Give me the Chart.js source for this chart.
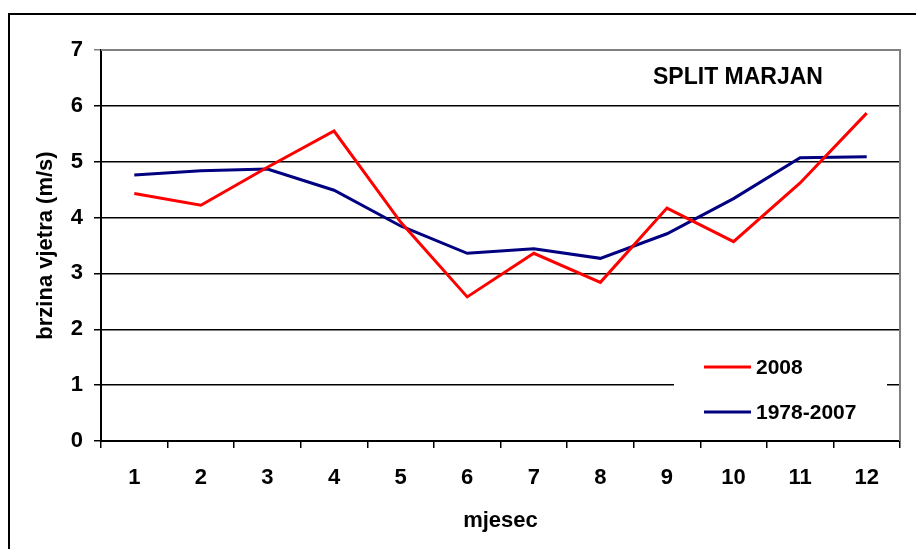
<!DOCTYPE html>
<html>
<head>
<meta charset="utf-8">
<script src="https://cdn.jsdelivr.net/npm/chart.js@4"></script>
<style>
  html, body { margin: 0; padding: 0; background: #fff; overflow: hidden; }
  #wrap { width: 916px; height: 549px; }
</style>
</head>
<body>
<div id="wrap"><canvas id="windChart" width="916" height="549"></canvas></div>
<script>
// podaci
const months = ['1', '2', '3', '4', '5', '6', '7', '8', '9', '10', '11', '12'];
const speed2008 = [4.43, 4.22, 4.9, 5.55, 3.92, 2.58, 3.36, 2.84, 4.17, 3.57, 4.62, 5.87];
const speed7807 = [4.76, 4.84, 4.87, 4.49, 3.85, 3.36, 3.44, 3.27, 3.71, 4.34, 5.07, 5.09];
const seriesNames = ['2008', '1978-2007'];
const stationName = 'SPLIT MARJAN';

const FONT = "'Liberation Sans', Arial, sans-serif";

// okvir, naslov i legenda unutar grafa
const extras = {
    id: 'extras',
    beforeDraw(chart) {
        const ctx = chart.ctx;
        ctx.save();
        ctx.fillStyle = '#fff';
        ctx.fillRect(0, 0, chart.width, chart.height);
        ctx.strokeStyle = '#000';
        ctx.lineWidth = 2;
        ctx.strokeRect(9, 14, chart.width + 50, chart.height + 50);
        ctx.restore();
    },
    afterDraw(chart) {
        const ctx = chart.ctx;
        const a = chart.chartArea;
        ctx.save();
        // rub
        ctx.strokeStyle = '#808080';
        ctx.lineWidth = 2;
        ctx.beginPath();
        ctx.moveTo(a.left, a.top);
        ctx.lineTo(a.right, a.top);
        ctx.lineTo(a.right, a.bottom);
        ctx.stroke();

        // naslov
        ctx.fillStyle = '#000';
        ctx.font = 'bold 23px ' + FONT;
        ctx.textAlign = 'center';
        ctx.textBaseline = 'middle';
        ctx.fillText(stationName, 738, 78);

        // legenda
        ctx.fillStyle = '#fff';
        ctx.fillRect(674, 345, 213, 88);
        ctx.font = 'bold 21px ' + FONT;
        ctx.textAlign = 'left';
        chart.data.datasets.forEach((ds, i) => {
            const y = 367 + i * 45;
            ctx.strokeStyle = ds.borderColor;
            ctx.lineWidth = 3;
            ctx.beginPath();
            ctx.moveTo(704, y);
            ctx.lineTo(751, y);
            ctx.stroke();
            ctx.fillStyle = '#000';
            ctx.fillText(ds.label, 756, y + 1);
        });
        ctx.restore();
    }
};

const ctx = document.getElementById('windChart').getContext('2d');
new Chart(ctx, {
    type: 'line',
    data: {
        labels: months,
        datasets: [
            {
                label: seriesNames[0],
                data: speed2008,
                borderColor: '#FF0000',
                backgroundColor: '#FF0000',
                borderWidth: 3,
                pointRadius: 0,
                tension: 0
            },
            {
                label: seriesNames[1],
                data: speed7807,
                borderColor: '#000080',
                backgroundColor: '#000080',
                borderWidth: 3,
                pointRadius: 0,
                tension: 0
            }
        ]
    },
    options: {
        responsive: false,
        animation: false,
        layout: { padding: { top: 50, right: 16, left: 0, bottom: 0 } },
        plugins: {
            legend: { display: false },
            tooltip: { enabled: false }
        },
        scales: {
            x: {
                offset: true,
                grid: {
                    offset: true,
                    drawOnChartArea: false,
                    drawTicks: true,
                    tickLength: 7,
                    color: '#000',
                    lineWidth: 1.5
                },
                border: { color: '#000', width: 2 },
                ticks: {
                    color: '#000',
                    padding: 17,
                    font: { family: FONT, size: 22, weight: 'bold' },
                    maxRotation: 0
                },
                title: {
                    display: true,
                    text: 'mjesec',
                    color: '#000',
                    font: { family: FONT, size: 22, weight: 'bold' },
                    padding: { top: 0, bottom: 15 }
                },
                afterFit(scale) { scale.height = 108; }
            },
            y: {
                min: 0,
                max: 7,
                ticks: {
                    stepSize: 1,
                    color: '#000',
                    padding: 11,
                    font: { family: FONT, size: 22, weight: 'bold' }
                },
                grid: {
                    color: (c) => c.tick && c.tick.value === 7 ? '#808080' : '#000',
                    lineWidth: 1.5,
                    tickLength: 7
                },
                border: { color: '#000', width: 2 },
                title: {
                    display: true,
                    text: 'brzina vjetra (m/s)',
                    color: '#000',
                    font: { family: FONT, size: 22, weight: 'bold' },
                    padding: { top: 33, bottom: 0 }
                },
                afterFit(scale) { scale.width = 101; }
            }
        }
    },
    plugins: [extras]
});
</script>
</body>
</html>
